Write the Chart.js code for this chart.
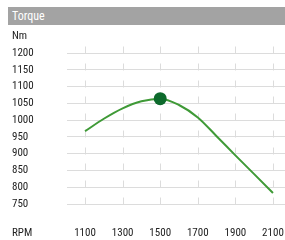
<!DOCTYPE html>
<html lang="en">
<head>
    <meta charset="UTF-8">
    <title>Torque</title>
    <script src="https://cdn.jsdelivr.net/npm/chart.js@4/dist/chart.umd.min.js"></script>
    <style>
        body{
            margin: 0;
            background-color: #ffffff;
            font-family: "Roboto Condensed", "Liberation Sans Narrow", Roboto, sans-serif;
        }
        .titleBar{
            position: absolute;
            left: 8px;
            top: 7px;
            width: 273px;
            height: 18px;
            padding-left: 4px;
            background-color: #a3a3a3;
            color: #ffffff;
            font-size: 12px;
            line-height: 18px;
        }
        .grafica{
            position: absolute;
            left: 0;
            top: 0;
            width: 285px;
            height: 240px;
        }
    </style>
</head>
<body>
    <div class="titleBar">Torque</div>
    <div class="grafica">
        <canvas id="miCanvas" width="285" height="240"></canvas>
    </div>
    <script>
        // values
        const rpm = [1100, 1200, 1300, 1400, 1500, 1600, 1700, 1800, 1900, 2000, 2100];
        const torque = [967, 1004, 1035, 1056, 1064, 1045, 1008, 952, 895, 839, 783];
        const xTicks = [1100, 1300, 1500, 1700, 1900, 2100];
        const yTicks = [750, 800, 850, 900, 950, 1000, 1050, 1100, 1150, 1200];

        const fontFam = '"Roboto Condensed", "Liberation Sans Narrow", Roboto, sans-serif';
        const gridColor = '#dcdcdc';
        const peak = Math.max(...torque);

        // short vertical marks above every horizontal line, plus unit labels
        const extras = {
            id: 'extras',
            beforeDatasetsDraw(chart) {
                const ctx = chart.ctx;
                const xs = chart.scales.x, ys = chart.scales.y;
                ctx.save();
                ctx.strokeStyle = gridColor;
                ctx.lineWidth = 1;
                yTicks.forEach(v => {
                    const py = Math.round(ys.getPixelForValue(v)) + 0.5;
                    xTicks.forEach(r => {
                        const px = Math.round(xs.getPixelForValue(r)) + 0.5;
                        ctx.beginPath();
                        ctx.moveTo(px, py - 7);
                        ctx.lineTo(px, py);
                        ctx.stroke();
                    });
                });
                ctx.restore();
            },
            afterDraw(chart) {
                const ctx = chart.ctx;
                ctx.save();
                ctx.fillStyle = '#222222';
                ctx.font = '11px ' + fontFam;
                ctx.textBaseline = 'middle';
                ctx.textAlign = 'left';
                ctx.fillText('Nm', 12, 36);
                ctx.fillText('RPM', 12, 233);
                ctx.restore();
            }
        };

        const miCanvas = document.getElementById("miCanvas").getContext("2d");
        new Chart(miCanvas, {
            type: 'line',
            data: {
                datasets: [{
                    data: rpm.map((r, i) => ({x: r, y: torque[i]})),
                    borderColor: '#3f9a37',
                    borderWidth: 2,
                    cubicInterpolationMode: 'monotone',
                    pointRadius: ctx => (ctx.raw && ctx.raw.y === peak) ? 6.5 : 0,
                    pointBackgroundColor: '#0d6a2c',
                    pointBorderColor: '#0d6a2c',
                    pointBorderWidth: 0
                }]
            },
            options: {
                responsive: false,
                animation: false,
                layout: {padding: {left: 12, right: 0, top: 53, bottom: 0}},
                plugins: {legend: {display: false}, tooltip: {enabled: false}},
                scales: {
                    x: {
                        type: 'linear',
                        min: 1004,
                        max: 2164,
                        afterBuildTicks: s => { s.ticks = xTicks.map(v => ({value: v})); },
                        afterFit: s => { s.height = 36; },
                        grid: {color: 'rgba(0,0,0,0)', drawOnChartArea: false, tickLength: 23},
                        border: {display: false},
                        ticks: {
                            color: '#222222',
                            padding: 0,
                            maxRotation: 0,
                            autoSkip: false,
                            callback: v => String(v),
                            font: {family: fontFam, size: 11}
                        }
                    },
                    y: {
                        min: 750,
                        max: 1200,
                        afterBuildTicks: s => { s.ticks = yTicks.map(v => ({value: v})); },
                        afterFit: s => { s.width = 55; },
                        grid: {color: gridColor, drawTicks: false},
                        border: {display: false},
                        ticks: {
                            color: '#222222',
                            crossAlign: 'far',
                            padding: 0,
                            callback: v => String(v),
                            font: {family: fontFam, size: 11}
                        }
                    }
                }
            },
            plugins: [extras]
        });
    </script>
</body>
</html>
